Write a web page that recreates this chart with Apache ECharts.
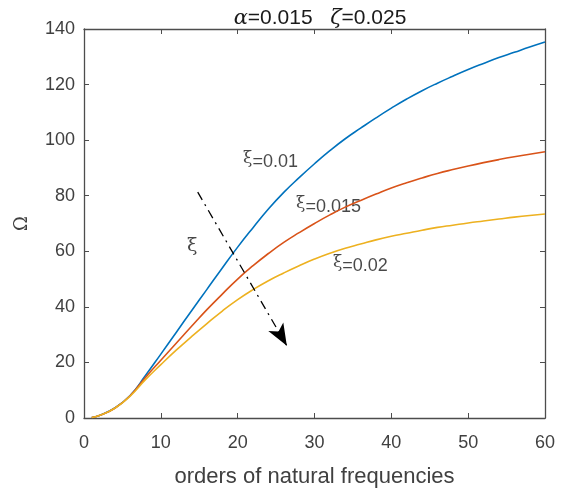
<!DOCTYPE html>
<html>
<head>
<meta charset="utf-8">
<script src="https://cdn.jsdelivr.net/npm/echarts@6/dist/echarts.min.js"></script>
<style>html,body{margin:0;padding:0;background:#fff}#c{width:563px;height:493px}</style>
</head>
<body>
<div id="c"></div>
<script>
var orders = [1,2,4,6,8,10,12,14,16,18,20,22,24,26,28,30,32,34,36,38,40,42,44,46,48,50,52,54,56,58,60];
var xi001  = [0.2,0.9,3.6,8.1,15.3,23.0,30.8,38.6,46.3,54,61.5,68.5,75.2,81.2,86.5,91.5,96.2,100.5,104.3,108.0,111.5,114.8,117.8,120.5,123,125.4,127.6,129.7,131.6,133.5,135.3];
var xi0015 = [0.2,0.9,3.5,8.0,14.6,20.8,26.9,33,39,44.6,50,54.8,59.2,63.2,66.7,70,73.1,75.9,78.3,80.6,82.8,84.7,86.4,88.0,89.4,90.7,91.9,93.0,94,94.9,95.8];
var xi002  = [0.2,0.9,3.5,7.9,13.8,19.2,24.4,29.3,34,38.5,42.6,46.2,49.4,52.2,54.8,57.2,59.3,61.1,62.6,64.1,65.4,66.5,67.6,68.6,69.4,70.2,70.9,71.6,72.3,72.9,73.4];
var xTicks = [0,10,20,30,40,50,60];
var yTicks = [0,20,40,60,80,100,120,140];
var seriesNames = ['0.01','0.015','0.02'];
var labelPos = [[20.7,92],[27.6,76],[32.4,54.7]];
var arrowStart = [14.8,81.3];
var arrowEnd = [26.4,26.0];
var arrowLabelPos = [14.1,62];

function pairs(xs, ys){ return xs.map(function(x,i){return [x, ys[i]];}); }

var axisCol = '#4d4d4d';
var textCol = '#404040';
var sans = 'Liberation Sans, Arial, sans-serif';
var serif = 'DejaVu Serif, serif';

var chart = echarts.init(document.getElementById('c'), null, {renderer:'canvas'});
var colors = ['#0072BD','#D95319','#EDB120'];
var lineData = [xi001, xi0015, xi002];

var series = lineData.map(function(d,i){
  return {
    type:'line', name:seriesNames[i], data:pairs(orders,d), smooth:0.5, showSymbol:false,
    lineStyle:{color:colors[i], width:1.6}, itemStyle:{color:colors[i]}, z:3
  };
});
series.push({
  type:'scatter', symbolSize:0, silent:true,
  data: labelPos.map(function(p,i){ return {value:p, name:seriesNames[i]}; }),
  label:{show:true, position:'right', distance:0,
    formatter:function(p){ return '{g|ξ}{s|=' + p.name + '}'; },
    rich:{ g:{fontFamily:serif, fontSize:17, color:'#1a1a1a', padding:[0,0,7,0]},
           s:{fontFamily:sans, fontSize:18, color:'#1a1a1a'} }
  }
});
series.push({
  type:'line', data:[], xAxisIndex:1, yAxisIndex:1, silent:true,
  markLine:{
    silent:true, symbol:['none','arrow'], symbolSize:[13,22], label:{show:false},
    lineStyle:{color:'#000', width:1.3, type:[9,5,2,5]},
    itemStyle:{color:'#000'},
    data:[[{coord:arrowStart},{coord:arrowEnd}]]
  }
});
series.push({
  type:'scatter', symbolSize:0, silent:true, data:[arrowLabelPos],
  label:{show:true, position:'inside', formatter:'ξ', fontFamily:serif, fontSize:19, color:'#1a1a1a'}
});

chart.setOption({
  animation:false,
  backgroundColor:'#fff',
  title:{
    text:'{g|α}=0.015   {g|ζ}=0.025', left:315, top:3, textAlign:'center',
    textStyle:{fontFamily:sans, fontSize:21, fontWeight:'normal', color:'#1a1a1a',
      rich:{g:{fontFamily:serif, fontStyle:'italic', fontSize:21, color:'#1a1a1a'}}}
  },
  grid:{left:84, right:18, top:29, bottom:73},
  xAxis:[{
    type:'value', min:0, max:60, interval:10,
    name:'orders of natural frequencies', nameLocation:'middle', nameGap:48,
    nameTextStyle:{fontFamily:sans, fontSize:22, color:textCol},
    axisLine:{show:true, onZero:false, lineStyle:{color:axisCol, width:1.3}},
    axisTick:{show:true, inside:true, length:5, lineStyle:{color:axisCol}},
    axisLabel:{fontFamily:sans, fontSize:18, color:textCol, margin:16,
      formatter:function(v){ return xTicks.indexOf(v)>=0 ? String(v) : ''; }},
    splitLine:{show:false}
  },{
    type:'value', min:0, max:60, interval:10, position:'top',
    axisLine:{show:true, onZero:false, lineStyle:{color:axisCol, width:1.3}},
    axisTick:{show:true, inside:true, length:5, lineStyle:{color:axisCol}},
    axisLabel:{show:false}, splitLine:{show:false}
  }],
  yAxis:[{
    type:'value', min:0, max:140, interval:20,
    name:'Ω', nameLocation:'middle', nameGap:53, nameRotate:90,
    nameTextStyle:{fontFamily:serif, fontSize:18, color:textCol},
    axisLine:{show:true, onZero:false, lineStyle:{color:axisCol, width:1.3}},
    axisTick:{show:true, inside:true, length:5, lineStyle:{color:axisCol}},
    axisLabel:{fontFamily:sans, fontSize:18, color:textCol, margin:9,
      formatter:function(v){ return yTicks.indexOf(v)>=0 ? String(v) : ''; }},
    splitLine:{show:false}
  },{
    type:'value', min:0, max:140, interval:20, position:'right',
    axisLine:{show:true, onZero:false, lineStyle:{color:axisCol, width:1.3}},
    axisTick:{show:true, inside:true, length:5, lineStyle:{color:axisCol}},
    axisLabel:{show:false}, splitLine:{show:false}
  }],
  series:series
});
</script>
</body>
</html>
